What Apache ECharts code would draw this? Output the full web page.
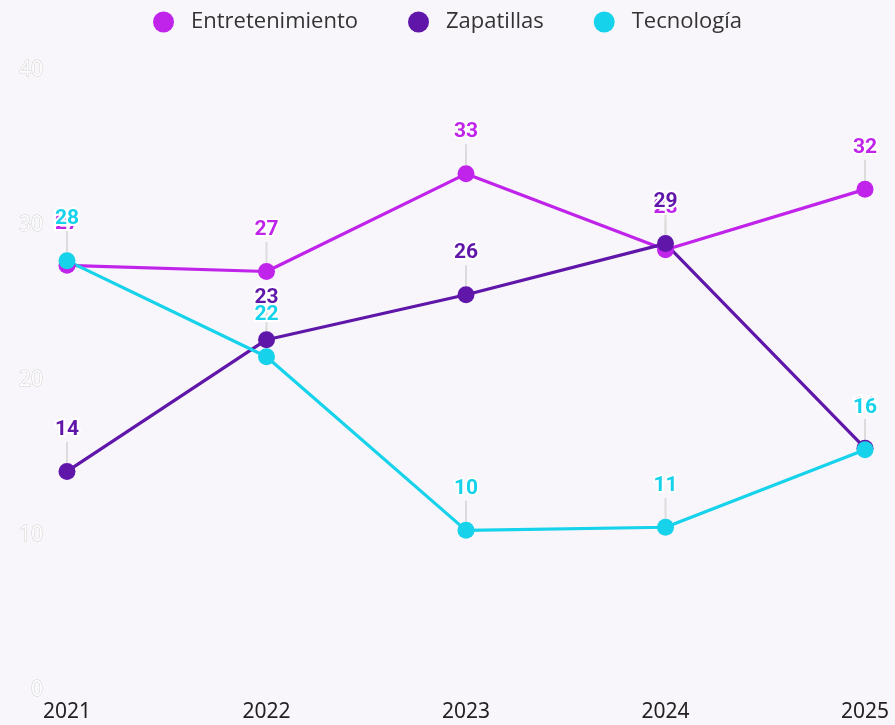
<!DOCTYPE html>
<html>
<head>
<meta charset="utf-8">
<script src="https://cdn.jsdelivr.net/npm/echarts@6/dist/echarts.min.js"></script>
<style>
html, body { margin: 0; padding: 0; background: #f8f6fb; }
#chart { width: 895px; height: 725px; }
</style>
</head>
<body>
<div id="chart"></div>
<script>
// datos
var years = ['2021', '2022', '2023', '2024', '2025'];
var entretenimiento = [27.4, 27.0, 33.3, 28.4, 32.3];
var zapatillas = [14.1, 22.6, 25.5, 28.8, 15.6];
var tecnologia = [27.7, 21.5, 10.3, 10.5, 15.5];
var yTicks = [0, 10, 20, 30, 40];

var colores = ['#c024ea', '#5f16a9', '#16d2ea'];

function serie(nombre, datos) {
	return {
		name: nombre,
		type: 'line',
		data: datos,
		symbol: 'circle',
		symbolSize: 17,
		lineStyle: { width: 3.2 },
		label: {
			show: true,
			position: 'top',
			fontFamily: 'Roboto',
			fontWeight: 'bold',
			fontSize: 21,
			color: 'inherit',
			textBorderColor: '#fff',
			textBorderWidth: 4,
			formatter: function (p) { return Math.round(p.value); }
		},
		labelLayout: { dy: -18 },
		labelLine: {
			show: true,
			lineStyle: { color: '#dcdcdc', width: 2 }
		}
	};
}

var myChart = echarts.init(document.getElementById('chart'));
option = {
	backgroundColor: '#f8f6fb',
	color: colores,
	legend: {
		top: 6,
		left: 'center',
		icon: 'circle',
		itemWidth: 21,
		itemHeight: 21,
		itemGap: 50,
		textStyle: {
			fontFamily: 'Open Sans',
			fontSize: 22,
			color: '#333',
			padding: [0, 0, 0, 12]
		},
		data: ['Entretenimiento', 'Zapatillas', 'Tecnología']
	},
	grid: {
		left: 67,
		right: 30,
		top: 70,
		bottom: 35
	},
	xAxis: {
		type: 'category',
		data: years,
		boundaryGap: false,
		axisLine: { show: false },
		axisTick: { show: false },
		axisLabel: {
			margin: 12,
			fontFamily: 'Noto Sans',
			fontSize: 21,
			color: '#222'
		}
	},
	yAxis: {
		type: 'value',
		min: yTicks[0],
		max: yTicks[yTicks.length - 1],
		interval: 10,
		splitLine: { show: false },
		axisLine: { show: false },
		axisTick: { show: false },
		axisLabel: {
			margin: 24,
			fontFamily: 'Open Sans',
			fontSize: 21,
			color: '#ffffff',
			textBorderColor: '#cfcfcf',
			textBorderWidth: 1
		}
	},
	series: [
		serie('Entretenimiento', entretenimiento),
		serie('Zapatillas', zapatillas),
		serie('Tecnología', tecnologia)
	]
};
myChart.setOption(option);
</script>
</body>
</html>
